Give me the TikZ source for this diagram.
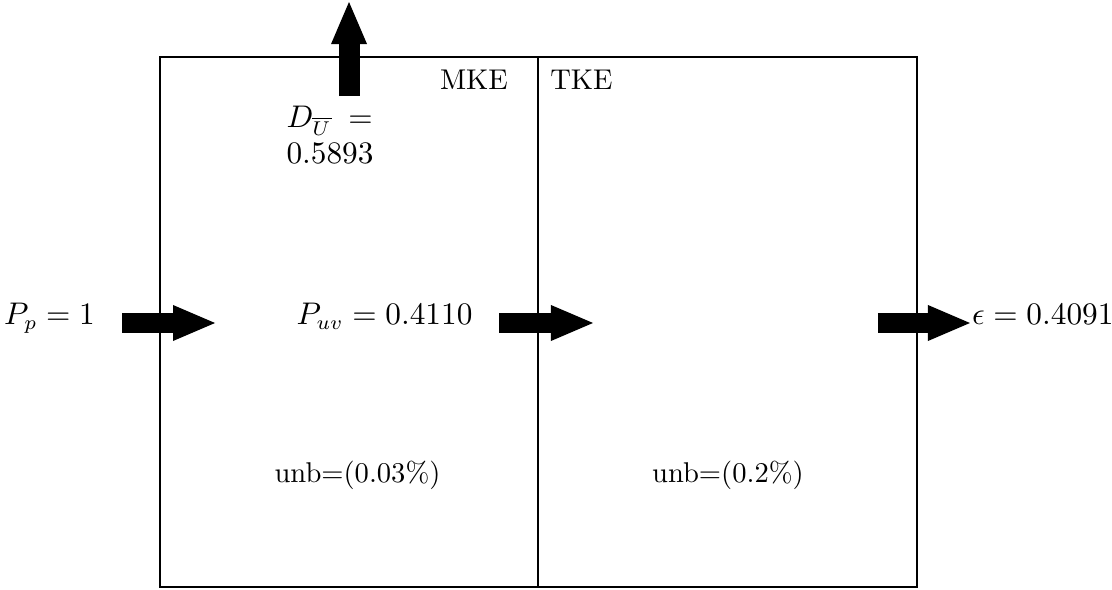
\documentclass[tikz,border=0pt]{standalone}
\usepackage{amsmath}
\usepackage{tikz}
\usetikzlibrary{arrows.meta,positioning}
\tikzset{
  wall/.style={draw=black,line width=0.7pt,inner sep=0pt,minimum height=6.519cm},
  flow/.style={draw=black,line width=0.258cm,-{Triangle[length=0.517cm,width=0.443cm,line width=0pt]}},
  val/.style={font=\fontsize{10.6}{12.8}\selectfont,inner sep=0pt},
  tag/.style={font=\normalsize,inner sep=0pt}
}
\begin{document}
\begin{tikzpicture}
  \useasboundingbox (0,0) rectangle (13.678,7.257);
  % energy boxes
  \node[wall,minimum width=4.649cm] (mke) at (4.2925,3.2965) {};
  \node[wall,minimum width=4.662cm] (tke) at (8.948,3.2965) {};
  \node[tag,anchor=base] (mkelab) at (5.830,6.162) {MKE};
  \node[tag,anchor=base] (tkelab) at (7.152,6.162) {TKE};

  % arrow ends
  \coordinate (prodS) at (1.501,3.284);
  \coordinate (prodE) at (2.645,3.284);
  \coordinate (xferS) at (6.138,3.284);
  \coordinate (xferE) at (7.294,3.284);
  \coordinate (dissS) at (10.799,3.284);
  \coordinate (dissE) at (11.931,3.284);
  \coordinate (drainS) at (4.293,6.076);
  \coordinate (drainE) at (4.293,7.232);

  % fluxes
  \draw[flow] (prodS) -- (prodE);
  \draw[flow] (xferS) -- (xferE);
  \draw[flow] (dissS) -- (dissE);
  \draw[flow] (drainS) -- (drainE);

  % values
  \node[val,anchor=base] (pp) at (0.609,3.260) {$P_p=1$};
  \node[val,anchor=base east] (puv) at (5.818,3.260) {$P_{uv}=0.4110$};
  \node[val,anchor=base west] (eps) at (11.950,3.260) {$\epsilon=0.4091$};
  \node[val,anchor=north west,align=left] (du) at (3.518,5.960) {$D_{\overline{U}}$\hspace{0.55em}$=$\\$0.5893$};
  \node[tag,anchor=base] (unbm) at (4.397,1.316) {unb=(0.03\%)};
  \node[tag,anchor=base] (unbt) at (8.954,1.316) {unb=(0.2\%)};
\end{tikzpicture}
\end{document}
